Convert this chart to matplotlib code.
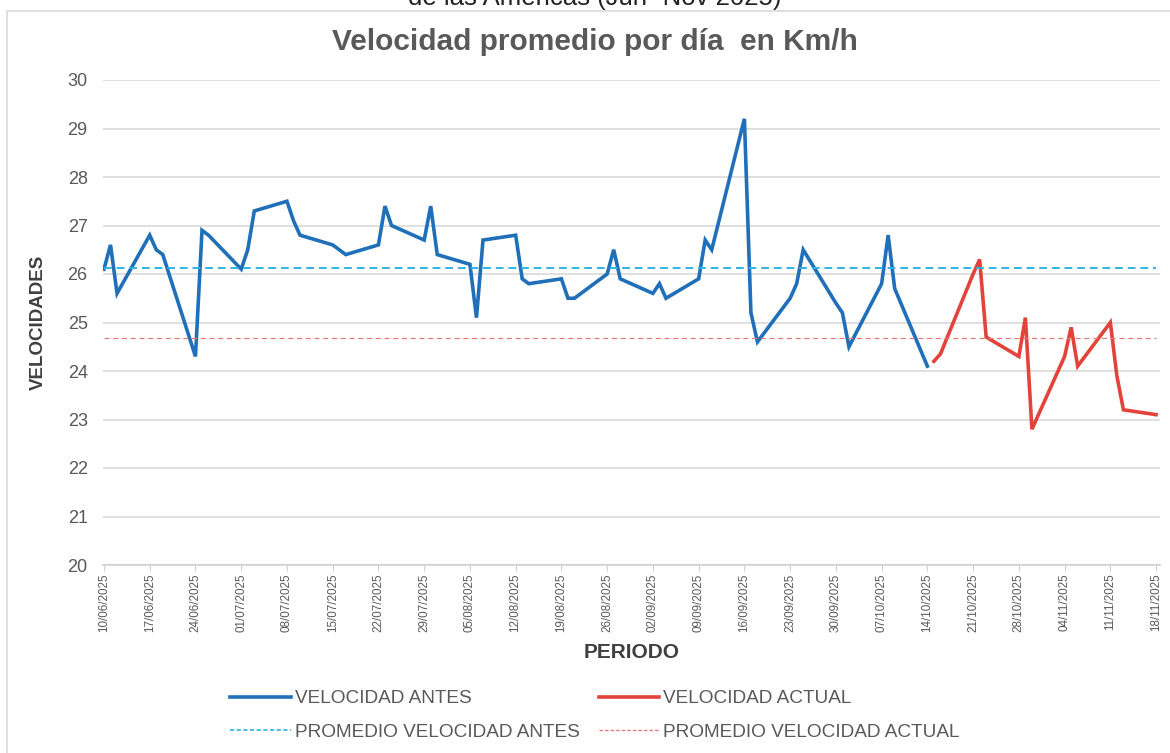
import matplotlib.pyplot as plt
import matplotlib.dates as mdates
import pandas as pd
from matplotlib.patches import Rectangle
from matplotlib.lines import Line2D

plt.rcParams['font.family'] = ['Liberation Sans', 'DejaVu Sans']

# Datos
fechas_antes = [
    "2025-06-10", "2025-06-11", "2025-06-12",
    "2025-06-17", "2025-06-18", "2025-06-19",
    "2025-06-24", "2025-06-25", "2025-06-26",
    "2025-07-01", "2025-07-02", "2025-07-03",
    "2025-07-08", "2025-07-09", "2025-07-10",
    "2025-07-15", "2025-07-16", "2025-07-17",
    "2025-07-22", "2025-07-23", "2025-07-24",
    "2025-07-29", "2025-07-30", "2025-07-31",
    "2025-08-05", "2025-08-06", "2025-08-07",
    "2025-08-12", "2025-08-13", "2025-08-14",
    "2025-08-19", "2025-08-20", "2025-08-21",
    "2025-08-26", "2025-08-27", "2025-08-28",
    "2025-09-02", "2025-09-03", "2025-09-04",
    "2025-09-09", "2025-09-10", "2025-09-11",
    "2025-09-16", "2025-09-17", "2025-09-18",
    "2025-09-23", "2025-09-24", "2025-09-25",
    "2025-09-30", "2025-10-01", "2025-10-02",
    "2025-10-07", "2025-10-08", "2025-10-09",
    "2025-10-14",
]
vel_antes = [
    26.1, 26.6, 25.6,
    26.8, 26.5, 26.4,
    24.3, 26.9, 26.8,
    26.1, 26.5, 27.3,
    27.5, 27.1, 26.8,
    26.6, 26.5, 26.4,
    26.6, 27.4, 27.0,
    26.7, 27.4, 26.4,
    26.2, 25.1, 26.7,
    26.8, 25.9, 25.8,
    25.9, 25.5, 25.5,
    26.0, 26.5, 25.9,
    25.6, 25.8, 25.5,
    25.9, 26.7, 26.5,
    29.2, 25.2, 24.6,
    25.5, 25.8, 26.5,
    25.4, 25.2, 24.5,
    25.8, 26.8, 25.7,
    24.1,
]
fechas_actual = [
    "2025-10-15", "2025-10-16",
    "2025-10-21", "2025-10-22", "2025-10-23",
    "2025-10-28", "2025-10-29", "2025-10-30",
    "2025-11-04", "2025-11-05", "2025-11-06",
    "2025-11-11", "2025-11-12", "2025-11-13",
    "2025-11-18",
]
vel_actual = [
    24.2, 24.35,
    26.0, 26.3, 24.7,
    24.3, 25.1, 22.8,
    24.3, 24.9, 24.1,
    25.0, 23.9, 23.2,
    23.1,
]
promedio_antes = 26.12
promedio_actual = 24.68

x_antes = pd.to_datetime(fechas_antes)
x_actual = pd.to_datetime(fechas_actual)
inicio = x_antes[0]
fin = x_actual[-1]
ticks = pd.date_range(inicio, fin, freq="7D")

# Colores
azul = "#1f6fb9"
rojo = "#e2433a"
azul_prom = "#2fb3e3"
rojo_prom = "#e57b76"
gris_txt = "#595959"

fig = plt.figure(figsize=(11.7, 7.53), dpi=100)
ax = fig.add_axes([103 / 1170, 1 - 565 / 753, (1160 - 103) / 1170, (565 - 80) / 753])

# Marco del grafico y titulo cortado arriba
fig.patches.append(Rectangle((7 / 1170, -0.1), 1.2, 1 - 11 / 753 + 0.1,
                             transform=fig.transFigure, fill=False,
                             edgecolor="#d9d9d9", linewidth=1.2))
fig.text(595 / 1170, 1 - 5 / 753, "de las Americas (Jun- Nov 2025)",
         ha="center", va="baseline", fontsize=18.5, color="#222222")

ax.plot(x_antes, vel_antes, color=azul, linewidth=2.6, solid_joinstyle="miter")
ax.plot(x_actual, vel_actual, color=rojo, linewidth=2.6, solid_joinstyle="miter")
ax.plot([inicio, fin], [promedio_antes, promedio_antes], color=azul_prom,
        linewidth=1.4, linestyle=(0, (4, 2.5)))
ax.plot([inicio, fin], [promedio_actual, promedio_actual], color=rojo_prom,
        linewidth=0.9, linestyle=(0, (4, 3)))

ax.set_ylim(20, 30)
ax.set_yticks(range(20, 31))
ax.set_xlim(inicio - pd.Timedelta(days=0.15), fin + pd.Timedelta(days=0.6))
ax.set_xticks(ticks)
ax.xaxis.set_major_formatter(mdates.DateFormatter("%d/%m/%Y"))
ax.grid(axis="y", color="#d9d9d9", linewidth=1.2)
ax.set_axisbelow(True)
for s in ["top", "right", "left"]:
    ax.spines[s].set_visible(False)
ax.spines["bottom"].set_color("#d0d0d0")
ax.spines["bottom"].set_linewidth(1.2)
ax.tick_params(axis="y", length=0, pad=11, labelsize=13, labelcolor=gris_txt)
ax.tick_params(axis="x", length=4, color="#d0d0d0", labelsize=8.4,
               labelcolor=gris_txt, rotation=90, pad=2)

fig.text(595 / 1170, 1 - 42 / 753, "Velocidad promedio por día  en Km/h",
         ha="center", va="center", fontsize=21.5, fontweight="bold",
         color=gris_txt)
ax.set_ylabel("VELOCIDADES", fontsize=13.5, fontweight="bold", color="#404040",
              labelpad=12)
ax.yaxis.set_label_coords(-(103 - 47) / 1057, 0.5)
ax.set_xlabel("PERIODO", fontsize=15, fontweight="bold", color="#404040",
              labelpad=8)

handles = [
    Line2D([], [], color=azul, linewidth=2.6),
    Line2D([], [], color=azul_prom, linewidth=1.2, linestyle=(0, (2.5, 1.5))),
    Line2D([], [], color=rojo, linewidth=2.6),
    Line2D([], [], color=rojo_prom, linewidth=1.0, linestyle=(0, (2.5, 1.5))),
]
labels = ["VELOCIDAD ANTES", "PROMEDIO VELOCIDAD ANTES",
          "VELOCIDAD ACTUAL", "PROMEDIO VELOCIDAD ACTUAL"]
leg = fig.legend(handles, labels, ncol=2, loc="upper left",
                 bbox_to_anchor=(230 / 1170, 1 - 690 / 753), frameon=False,
                 fontsize=13.7, handlelength=3.2, handletextpad=0.2,
                 columnspacing=1.0, labelspacing=0.85, borderpad=0,
                 borderaxespad=0)
for t in leg.get_texts():
    t.set_color(gris_txt)

fig.savefig("out.png", dpi=100)
